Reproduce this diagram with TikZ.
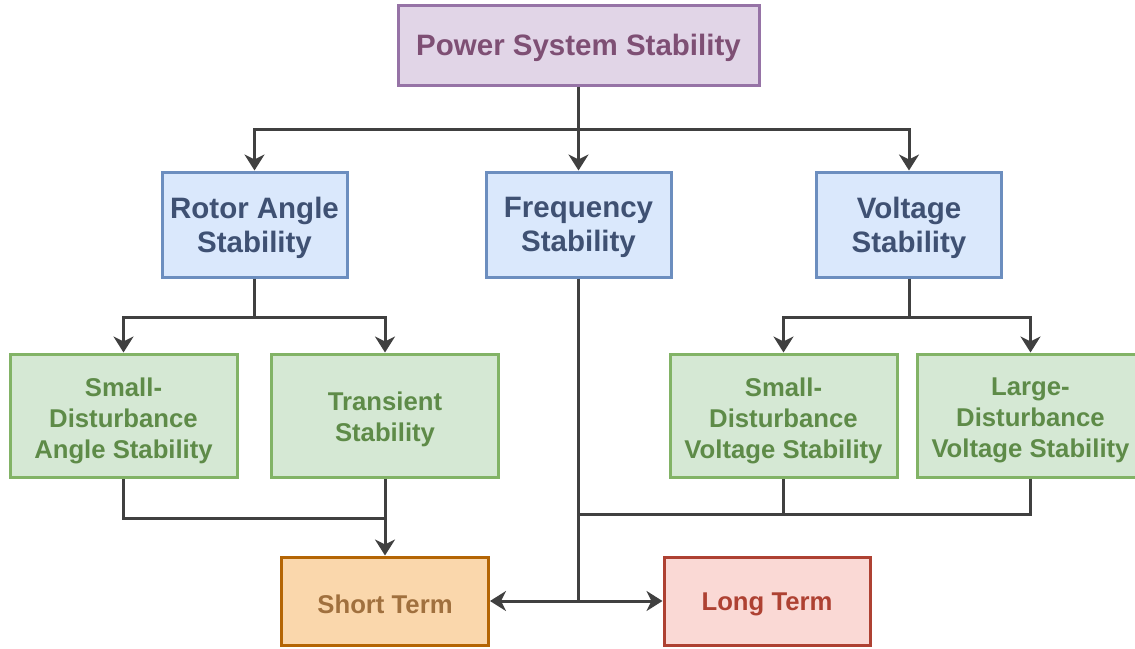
\documentclass[tikz,border=0pt]{standalone}
\usepackage{fontspec}
\setmainfont{Liberation Sans}
\usetikzlibrary{arrows.meta,calc}
\definecolor{purF}{HTML}{E1D5E7}\definecolor{purD}{HTML}{9673A6}\definecolor{purT}{HTML}{7E4F74}
\definecolor{bluF}{HTML}{DAE8FC}\definecolor{bluD}{HTML}{6C8EBF}\definecolor{bluT}{HTML}{3F5173}
\definecolor{grnF}{HTML}{D5E8D4}\definecolor{grnD}{HTML}{82B366}\definecolor{grnT}{HTML}{5E8B48}
\definecolor{orF}{HTML}{FAD7AC}\definecolor{orD}{HTML}{B46504}\definecolor{orT}{HTML}{A0703E}
\definecolor{redF}{HTML}{FAD9D5}\definecolor{redD}{HTML}{AE4132}\definecolor{redT}{HTML}{AE4132}
\definecolor{lineC}{HTML}{404040}
\begin{document}
\begin{tikzpicture}[x=1pt,y=-1pt,
  box/.style={rectangle, line width=3pt, inner sep=0pt},
  lbl/.style={align=center, inner sep=0pt},
  bigtxt/.style={lbl, font=\fontsize{29.5}{34}\selectfont\bfseries},
  smtxt/.style={lbl, font=\fontsize{25.7}{31}\selectfont\bfseries},
  topbox/.style={box, fill=purF, draw=purD, minimum width=361pt, minimum height=80pt},
  midbox/.style={box, fill=bluF, draw=bluD, minimum width=185pt, minimum height=105pt},
  leafbox/.style={box, fill=grnF, draw=grnD, minimum width=227pt, minimum height=123pt},
  shortbox/.style={box, fill=orF, draw=orD, minimum width=207pt, minimum height=88pt},
  longbox/.style={box, fill=redF, draw=redD, minimum width=206pt, minimum height=88pt},
  conn/.style={draw=lineC, line width=3pt},
  arr/.style={conn, -{Stealth[length=16pt,width=20pt,inset=5pt]}}
]
\useasboundingbox (0,0) rectangle (1135,648);
\node[topbox] (top) at (578.5,45) {};
\node[midbox] (rot) at (254.5,224.5) {};
\node[midbox] (fre) at (578.5,224.5) {};
\node[midbox] (vol) at (909,224.5) {};
\node[leafbox] (sda) at (123.5,415.5) {};
\node[leafbox] (tra) at (385,415.5) {};
\node[leafbox] (sdv) at (783.5,415.5) {};
\node[leafbox] (ldv) at (1030.5,415.5) {};
\node[shortbox] (sho) at (385,601) {};
\node[longbox] (lon) at (767,601) {};
% labels
\node[bigtxt, text=purT] (ttop) at ([yshift=-3pt]top.center) {Power System Stability};
\node[bigtxt, text=bluT] (trot) at ([yshift=-3pt]rot.center) {Rotor Angle\\Stability};
\node[bigtxt, text=bluT] (tfre) at ([yshift=-3pt]fre.center) {Frequency\\Stability};
\node[bigtxt, text=bluT] (tvol) at ([yshift=-3pt]vol.center) {Voltage\\Stability};
\node[smtxt, text=grnT] (tsda) at ([yshift=-5pt]sda.center) {Small-\\Disturbance\\Angle Stability};
\node[smtxt, text=grnT] (ttra) at ([yshift=-4pt]tra.center) {Transient\\Stability};
\node[smtxt, text=grnT] (tsdv) at ([yshift=-5pt]sdv.center) {Small-\\Disturbance\\Voltage Stability};
\node[smtxt, text=grnT] (tldv) at ([yshift=-5pt]ldv.center) {Large-\\Disturbance\\Voltage Stability};
\node[smtxt, text=orT] (tsho) at ([yshift=-3pt]sho.center) {Short Term};
\node[smtxt, text=redT] (tlon) at ([yshift=-3pt]lon.center) {Long Term};
% top level
\draw[conn] (top.south) -- ++(0,43) coordinate (j1);
\draw[arr] (j1) -| (rot.north);
\draw[arr] (j1) -- (fre.north);
\draw[arr] (j1) -| (vol.north);
% rotor angle
\draw[conn] (rot.south) -- ++(0,39) coordinate (j2);
\draw[arr] (j2) -| (sda.north);
\draw[arr] (j2) -| (tra.north);
% voltage
\draw[conn] (vol.south) -- ++(0,39) coordinate (j3);
\draw[arr] (j3) -| (sdv.north);
\draw[arr] (j3) -| (ldv.north);
% to short term
\draw[conn] (sda.south) |- ($(tra.south)+(0,40)$);
\draw[arr] (tra.south) -- (sho.north);
% voltage leaves to frequency line
\draw[conn] (sdv.south) -- ++(0,36) coordinate (j4);
\draw[conn] (ldv.south) |- (j4 -| fre.south);
% frequency to short/long
\draw[conn] (fre.south) -- (fre.south |- sho.east) coordinate (j5);
\draw[arr] (j5) -- (sho.east);
\draw[arr] (j5) -- (lon.west);
\end{tikzpicture}
\end{document}
